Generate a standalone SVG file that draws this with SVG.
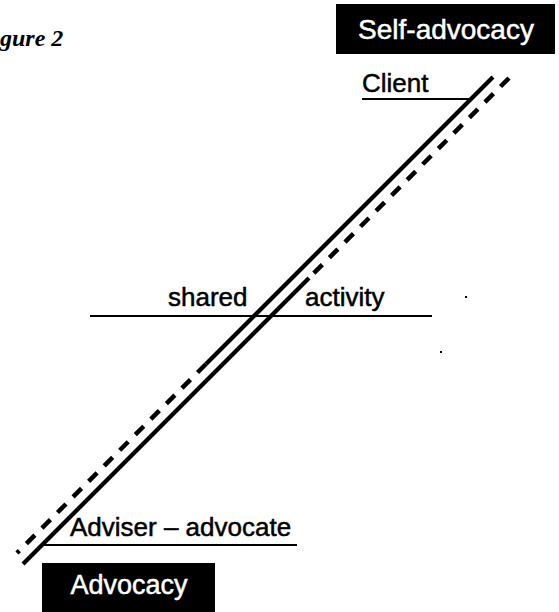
<svg xmlns="http://www.w3.org/2000/svg" width="559" height="612" viewBox="0 0 559 612">
<style>
.lbl{font-family:"Liberation Sans",Arial,sans-serif;font-size:26px;fill:#000;stroke:#000;stroke-width:0.5}
.box{fill:#000}
.boxt{font-family:"Liberation Sans",Arial,sans-serif;fill:#fff;stroke:#fff;stroke-width:0.5}
.rule{stroke:#000;stroke-width:2.2;fill:none}
.solid{stroke:#000;stroke-width:4.2;fill:none;stroke-linecap:butt}
.dash{stroke:#000;stroke-width:4.5;fill:none;stroke-dasharray:12 10;stroke-linecap:butt}
.cap{font-family:"Liberation Serif","Times New Roman",serif;font-style:italic;font-weight:bold;font-size:24px;fill:#000}
</style>
<rect width="559" height="612" fill="#fff"/>
<g id="caption"><text class="cap" x="0" y="46">gure 2</text></g>
<g id="self-advocacy">
<rect class="box" x="336" y="4" width="219" height="50"/>
<text class="boxt" x="446" y="39" font-size="28" text-anchor="middle">Self-advocacy</text>
</g>
<g id="advocacy">
<rect class="box" x="42" y="563" width="173" height="49"/>
<text class="boxt" x="129" y="594" font-size="27" text-anchor="middle">Advocacy</text>
</g>
<g id="client">
<text class="lbl" x="362" y="92">Client</text>
<line class="rule" x1="362" y1="99" x2="471" y2="99"/>
</g>
<g id="shared-activity">
<text class="lbl" x="168" y="306">shared</text>
<text class="lbl" x="305" y="306">activity</text>
<line class="rule" x1="90" y1="316" x2="432" y2="316"/>
</g>
<g id="adviser-advocate">
<text class="lbl" x="70" y="536">Adviser – advocate</text>
<line class="rule" x1="41" y1="545" x2="297" y2="545"/>
</g>
<g id="connectors">
<line class="solid" x1="493" y1="77" x2="206" y2="364"/>
<line class="dash" x1="206" y1="364" x2="17" y2="553"/>
<line class="dash" x1="509" y1="78" x2="309" y2="278"/>
<line class="solid" x1="309" y1="278" x2="23" y2="564"/>
</g>
<g id="specks">
<rect x="465" y="296" width="2" height="2" fill="#000"/>
<rect x="440" y="351" width="2" height="2" fill="#000"/>
</g>
</svg>
